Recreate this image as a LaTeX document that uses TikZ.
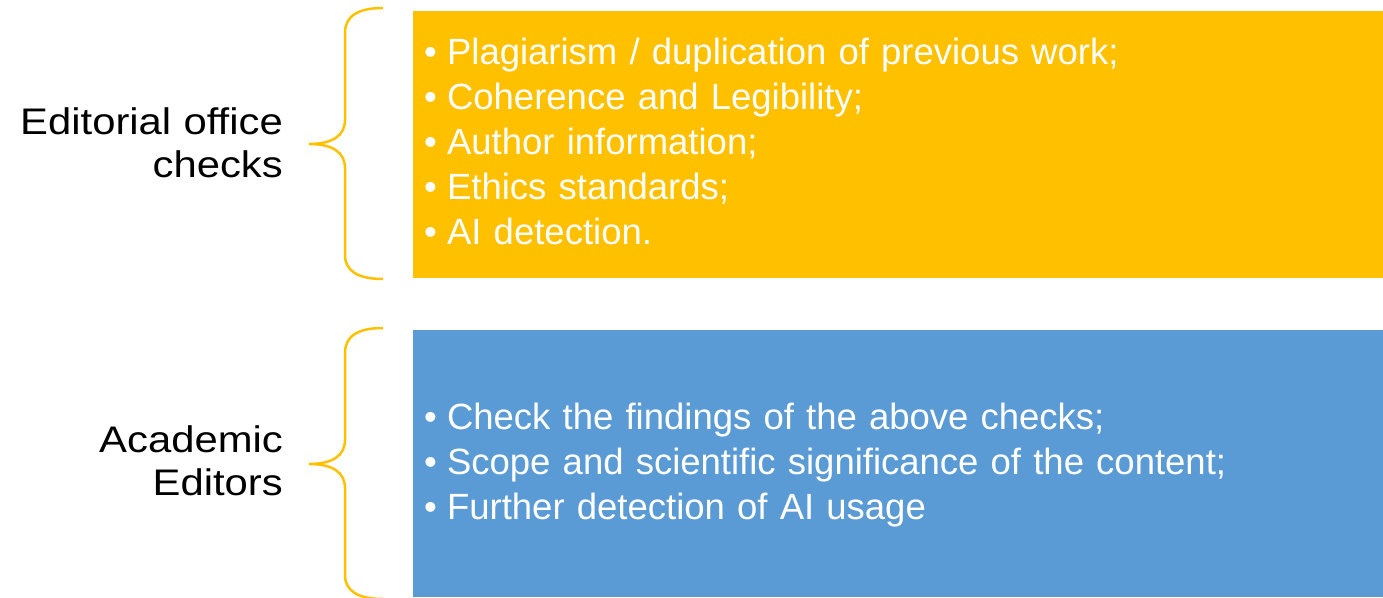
\documentclass[tikz,border=0pt]{standalone}
\usepackage{fontspec}
\setmainfont{Liberation Sans}
\newfontfamily\widesans[FakeStretch=1.13]{Liberation Sans}
\usepackage{tikz}
\usetikzlibrary{positioning}

\definecolor{gold}{HTML}{FFC000}
\definecolor{steel}{HTML}{5B9BD5}
\newcommand{\bul}{\textbullet\hspace{10.1pt}}

\begin{document}
\begin{tikzpicture}[x=1pt, y=1pt,
    panel/.style={fill=#1, draw=none},
    bracket/.style={draw=gold, line width=2.5pt},
    lbl/.style={inner sep=0pt, anchor=base east, text width=300pt, align=right,
      font=\widesans\fontsize{37}{43}\selectfont},
    items/.style={inner sep=0pt, anchor=base west, text width=950pt, align=left,
      text=white, font=\fontsize{36.5}{45}\selectfont}]
        \useasboundingbox (0,0) rectangle (1383,597);

        % Boxes
        \fill[panel=gold] (413,319) rectangle (1383,586);
        \fill[panel=steel] (413,0) rectangle (1383,267);

        % Braces
        \draw[bracket] (383,589) .. controls (358,589) and (345,581) .. (345,564)
          -- (345,477) .. controls (345,461) and (332,453) .. (309,453)
          .. controls (332,453) and (345,445) .. (345,429)
          -- (345,342) .. controls (345,326) and (358,318) .. (383,318);
        \draw[bracket] (383,269) .. controls (358,269) and (345,261) .. (345,244)
          -- (345,157) .. controls (345,141) and (332,133) .. (309,133)
          .. controls (332,133) and (345,125) .. (345,109)
          -- (345,22) .. controls (345,6) and (358,-2) .. (383,-2);

        % Labels
        \node[lbl] (office) at (283,462) {Editorial office\\checks};
        \node[lbl] (editors) at (283,144) {Academic\\Editors};

        % Check lists
        \node[items] (officelist) at (424,532) {\bul Plagiarism / duplication of previous work;\\
          \bul Coherence and Legibility;\\
          \bul Author information;\\
          \bul Ethics standards;\\
          \bul AI detection.};
        \node[items] (editorlist) at (424,167) {\bul Check the findings of the above checks;\\
          \bul Scope and scientific significance of the content;\\
          \bul Further detection of AI usage};
\end{tikzpicture}
\end{document}
